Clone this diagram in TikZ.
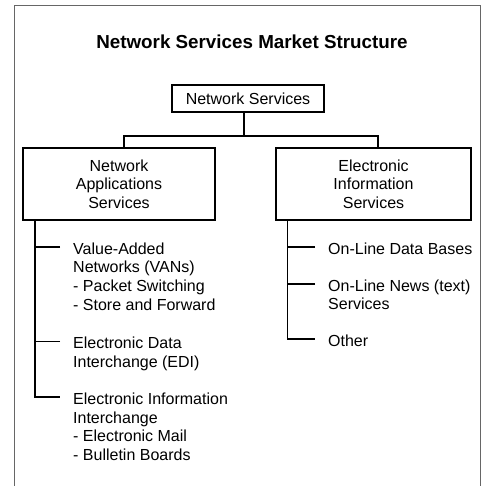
\documentclass[tikz,border=0pt]{standalone}
\usepackage{fontspec}
\setmainfont{Liberation Sans}
\usetikzlibrary{positioning,calc}

\begin{document}
\begin{tikzpicture}[x=1pt, y=-1pt,
    font=\fontsize{16}{18.7}\selectfont,
    box/.style={draw, line width=1.2pt, align=center, inner sep=2pt},
    item/.style={anchor=north west, align=left, inner sep=0pt},
    link/.style={line width=1.6pt}]
  \useasboundingbox (0,0) rectangle (484,486);

  % outer frame (open at the bottom)
  \draw[black!60, line width=1pt] (14,495) -- (14,6) -- (480,6) -- (480,495);

  % title
  \node[font=\fontsize{18.8}{20}\selectfont\bfseries, anchor=base] (title)
    at (252,48.5) {Network Services Market Structure};

  % boxes
  \node[box, minimum width=152pt, minimum height=27pt] (ns) at (248,98.5)
    {Network Services};
  \node[box, minimum width=192pt, minimum height=72pt] (nas) at (119,184)
    {Network\\Applications\\Services};
  \node[box, minimum width=195pt, minimum height=72pt] (eis) at (373.5,184)
    {Electronic\\Information\\Services};

  % tree links
  \draw[link] ([xshift=-4pt]ns.south) -- ++(0,23.5) coordinate (split);
  \draw[link] ([xshift=5pt]nas.north) |- (split) -| ([xshift=4.5pt]eis.north);

  % left list
  \node[item] (van) at (73,242.4) {Value-Added\\Networks (VANs)\\- Packet Switching\\- Store and Forward};
  \node[item] (edi) at (73,337) {Electronic Data\\Interchange (EDI)};
  \node[item] (eii) at (73,392.7) {Electronic Information\\Interchange\\- Electronic Mail\\- Bulletin Boards};

  % right list
  \node[item] (odb) at (328,242.4) {On-Line Data Bases};
  \node[item] (onl) at (328,279.5) {On-Line News (text)\\Services};
  \node[item] (oth) at (328,334.4) {Other};

  % branch ends
  \foreach \n in {van,edi,eii,odb,onl,oth}
    \coordinate (b-\n) at ([shift={(-13pt,-4.5pt)}]\n.north west);

  \coordinate (lstem) at ([xshift=12.5pt]nas.south west);
  \coordinate (rstem) at ([xshift=12pt]eis.south west);

  \draw[link] (lstem) |- (b-eii);
  \foreach \n in {van,edi}
    \draw[link] (b-\n) -- (b-\n -| lstem);

  \draw[link] (rstem) |- (b-oth);
  \foreach \n in {odb,onl}
    \draw[link] (b-\n) -- (b-\n -| rstem);
\end{tikzpicture}
\end{document}
